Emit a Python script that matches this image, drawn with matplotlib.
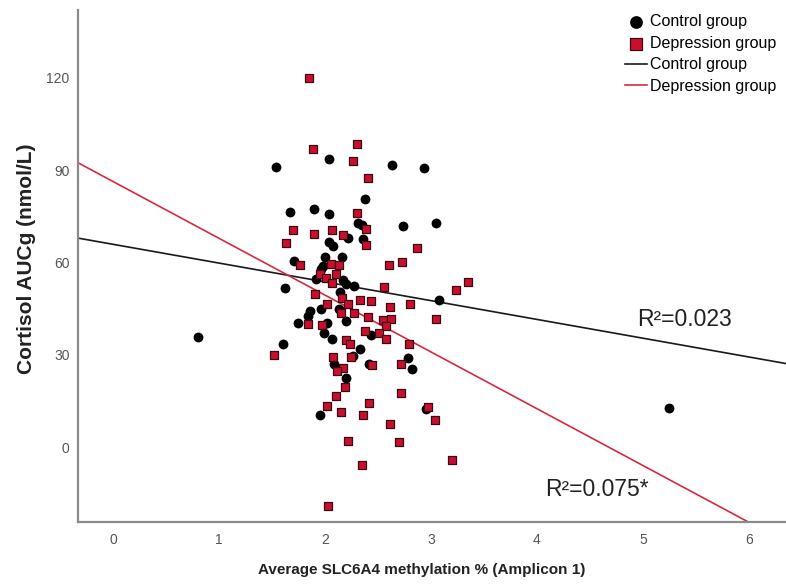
import matplotlib
matplotlib.use("Agg")
import matplotlib.pyplot as plt

# control group (black circles)
ctrl_x = [1.54, 2.04, 2.63, 2.93, 1.67, 1.90, 2.04, 2.38, 2.31, 2.35, 2.74, 3.05,
          2.22, 2.36, 2.04, 2.08, 2.00, 2.16, 1.71, 1.98, 1.96, 1.92, 2.17, 2.20,
          2.27, 1.62, 2.14, 3.08, 1.96, 2.13, 1.86, 1.84, 2.20, 1.75, 2.02, 1.99,
          2.43, 2.07, 0.80, 1.60, 2.33, 2.26, 2.78, 2.09, 2.42, 2.82, 2.20, 1.95,
          2.95, 5.25]
ctrl_y = [91.0, 93.6, 91.8, 90.7, 76.4, 77.5, 75.9, 80.7, 72.7, 72.2, 71.8, 72.9,
          68.0, 67.5, 66.6, 65.3, 61.9, 61.9, 60.4, 58.8, 57.8, 54.5, 54.2, 52.9,
          52.5, 51.6, 50.4, 47.7, 45.0, 45.0, 44.2, 42.6, 41.0, 40.2, 40.2, 37.0,
          36.3, 35.3, 35.8, 33.6, 32.0, 29.6, 29.1, 26.9, 26.9, 25.3, 22.6, 10.4,
          12.5, 12.6]

# depression group (red squares)
dep_x = [1.85, 2.30, 1.89, 2.26, 2.41, 2.30, 1.70, 1.90, 2.07, 2.39, 2.17, 1.63,
         2.39, 2.87, 1.76, 2.06, 2.13, 2.60, 2.73, 1.95, 2.10, 2.01, 2.07, 2.56,
         3.24, 3.35, 1.91, 2.33, 2.16, 2.43, 2.22, 2.02, 2.61, 2.80, 2.15, 2.27,
         2.41, 2.55, 2.62, 3.05, 1.84, 1.97, 2.58, 2.38, 2.51, 2.58, 2.20, 2.24,
         2.79, 1.52, 2.08, 2.25, 2.17, 2.11, 2.44, 2.72, 2.19, 2.72, 2.10, 2.42,
         2.02, 2.97, 2.15, 2.36, 3.04, 2.61, 2.22, 2.70, 2.35, 3.20, 2.03]
dep_y = [120.0, 98.5, 96.7, 93.1, 87.5, 76.1, 70.7, 69.3, 70.7, 70.9, 68.9, 66.4,
         65.8, 64.8, 59.1, 59.6, 59.1, 59.1, 60.2, 56.1, 56.1, 55.0, 53.4, 52.1,
         51.2, 53.8, 49.6, 47.7, 48.6, 47.5, 46.4, 46.6, 45.5, 46.4, 43.5, 43.7,
         42.3, 41.3, 41.7, 41.7, 40.1, 39.6, 39.3, 37.7, 37.2, 35.3, 34.8, 33.4,
         33.4, 29.9, 29.3, 29.3, 25.8, 24.7, 26.6, 26.9, 19.4, 17.7, 16.6, 14.5,
         13.4, 12.9, 11.3, 10.4, 8.9, 7.5, 2.0, 1.8, -5.7, -4.1, -19.2]

# fit lines: (intercept, slope)
ctrl_fit = (65.9, -6.1)
dep_fit = (86.3, -18.45)
r2_ctrl = "R\u00b2=0.023"
r2_dep = "R\u00b2=0.075*"

x_ticks = [0, 1, 2, 3, 4, 5, 6]
y_ticks = [0, 30, 60, 90, 120]
xlim = (-0.33, 6.35)
ylim = (-24.3, 142)

plt.rcParams["font.family"] = ["Liberation Sans", "DejaVu Sans"]

fig = plt.figure(figsize=(7.86, 5.86), dpi=100)
ax = fig.add_axes([78 / 786, 64 / 586, 1 - 78 / 786, 512 / 586])

red = "#c8102e"
ax.scatter(ctrl_x, ctrl_y, s=50, marker="o", color="black", linewidths=0,
           label="Control group", zorder=3)
ax.scatter(dep_x, dep_y, s=40, marker="s", facecolor=red, edgecolor="#3b0a12",
           linewidths=0.9, label="Depression group", zorder=3)

xs = list(xlim)
ax.plot(xs, [ctrl_fit[0] + ctrl_fit[1] * v for v in xs], color="#1a1a1a", lw=1.2,
        label="Control group", zorder=2)
ax.plot(xs, [dep_fit[0] + dep_fit[1] * v for v in xs], color="#d42a42", lw=1.2,
        label="Depression group", zorder=2)

ax.text(4.95, 41.5, r2_ctrl, fontsize=16.5, va="center", ha="left", color="#222")
ax.text(4.08, -13.6, r2_dep, fontsize=16.5, va="center", ha="left", color="#222")

ax.set_xlim(*xlim)
ax.set_ylim(*ylim)
ax.set_xticks(x_ticks)
ax.set_yticks(y_ticks)
ax.tick_params(length=0, labelsize=10, labelcolor="#555")
ax.tick_params(axis="x", pad=8)
ax.tick_params(axis="y", pad=6)
for s in ("top", "right"):
    ax.spines[s].set_visible(False)
for s in ("left", "bottom"):
    ax.spines[s].set_color("#8a8a8a")
    ax.spines[s].set_linewidth(1.6)

ax.set_xlabel("Average SLC6A4 methylation % (Amplicon 1)", fontsize=11,
              fontweight="bold", color="#222", va="center")
ax.xaxis.set_label_coords(0.486, -0.094)
ax.set_ylabel("Cortisol AUCg (nmol/L)", fontsize=15, fontweight="bold",
              color="#222", va="center")
ax.yaxis.set_label_coords(-0.073, 0.515)

leg = ax.legend(loc="upper right", bbox_to_anchor=(1.0, 1.01), frameon=False,
                fontsize=11.5, handlelength=1.4, handletextpad=0.2,
                labelspacing=0.4, borderaxespad=0.2, markerscale=1.3)

fig.savefig("out.png", dpi=100)
